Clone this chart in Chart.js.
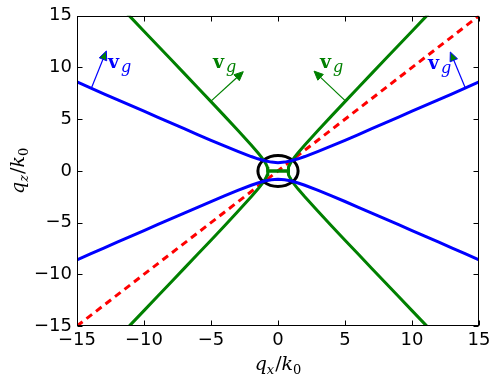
<!DOCTYPE html>
<html><head><meta charset="utf-8">
<script src="https://cdn.jsdelivr.net/npm/chart.js@4/dist/chart.umd.min.js"></script>
<style>html,body{margin:0;padding:0;background:#fff;} #wrap{width:498px;height:381px;position:relative;}</style>
</head><body><div id="wrap"><canvas id="c"></canvas></div>
<script>
// ---- data ----
const qxBlue = [-15,-14,-13,-12,-11,-10,-9,-8,-7,-6,-5,-4,-3,-2,-1.5,-1,-0.5,0,0.5,1,1.5,2,3,4,5,6,7,8,9,10,11,12,13,14,15];
const qzBlueUpper = [8.6,8.03,7.46,6.9,6.33,5.77,5.2,4.64,4.08,3.52,2.96,2.42,1.89,1.39,1.17,0.98,0.85,0.8,0.85,0.98,1.17,1.39,1.89,2.42,2.96,3.52,4.08,4.64,5.2,5.77,6.33,6.9,7.46,8.03,8.6];
const qzBlueLower = [-8.6,-8.03,-7.46,-6.9,-6.33,-5.77,-5.2,-4.64,-4.08,-3.52,-2.96,-2.42,-1.89,-1.39,-1.17,-0.98,-0.85,-0.8,-0.85,-0.98,-1.17,-1.39,-1.89,-2.42,-2.96,-3.52,-4.08,-4.64,-5.2,-5.77,-6.33,-6.9,-7.46,-8.03,-8.6];
const qxGreen = [-12,-11,-10,-9,-8,-7,-6,-5,-4,-3,-2,-1.5,-1.25,-1,-0.9,-0.8,-0.77,-0.75,0,0.75,0.77,0.8,0.9,1,1.25,1.5,2,3,4,5,6,7,8,9,10,11,12];
const qzGreenUpper = [16.22,14.87,13.51,12.15,10.79,9.43,8.06,6.70,5.32,3.93,2.51,1.76,1.35,0.90,0.67,0.38,0.24,0,0,0,0.24,0.38,0.67,0.90,1.35,1.76,2.51,3.93,5.32,6.70,8.06,9.43,10.79,12.15,13.51,14.87,16.22];
const qzGreenLower = [-16.22,-14.87,-13.51,-12.15,-10.79,-9.43,-8.06,-6.70,-5.32,-3.93,-2.51,-1.76,-1.35,-0.90,-0.67,-0.38,-0.24,0,0,0,-0.24,-0.38,-0.67,-0.90,-1.35,-1.76,-2.51,-3.93,-5.32,-6.70,-8.06,-9.43,-10.79,-12.15,-13.51,-14.87,-16.22];
const qxLight = [-15, 15];
const qzLight = [-15, 15];
const tickValues = [-15,-10,-5,0,5,10,15];
const circleCenter = [0, 0];
const circleRadius = 1.5;
// group-velocity arrows: [x0, y0, x1, y1] in data units, and label anchors
const arrowBlueL = [-13.93, 8.0, -12.81, 11.6];
const arrowBlueR = [13.99, 8.0, 12.86, 11.5];
const arrowGreenL = [-5.0, 6.75, -2.59, 9.6];
const arrowGreenR = [5.05, 6.75, 2.69, 9.65];
const labelBlueL = [-12.69, 9.93];
const labelBlueR = [11.19, 9.84];
const labelGreenL = [-4.85, 9.93];
const labelGreenR = [3.13, 9.93];

const BLUE = '#0000ff', GREEN = '#008000', RED = '#ff0000';
const pts = (xs, ys) => xs.map((x, i) => ({x, y: ys[i]}));
const minusFmt = v => (v < 0 ? '\u2212' : '') + Math.abs(v);

const line = (data, color, extra) => Object.assign({
  data, borderColor: color, backgroundColor: color, borderWidth: 3,
  showLine: true, pointRadius: 0, fill: false, tension: 0
}, extra || {});

function drawArrow(ctx, xs, ys, a, lineCol, headFill) {
  const x0 = xs.getPixelForValue(a[0]), y0 = ys.getPixelForValue(a[1]);
  const x1 = xs.getPixelForValue(a[2]), y1 = ys.getPixelForValue(a[3]);
  const ang = Math.atan2(y1 - y0, x1 - x0);
  const hl = 9, hw = 4;
  const bx = x1 - hl * Math.cos(ang), by = y1 - hl * Math.sin(ang);
  ctx.save();
  ctx.strokeStyle = lineCol; ctx.lineWidth = 1.2;
  ctx.beginPath(); ctx.moveTo(x0, y0); ctx.lineTo(bx, by); ctx.stroke();
  ctx.beginPath();
  ctx.moveTo(x1, y1);
  ctx.lineTo(bx + hw * Math.sin(ang), by - hw * Math.cos(ang));
  ctx.lineTo(bx - hw * Math.sin(ang), by + hw * Math.cos(ang));
  ctx.closePath();
  ctx.fillStyle = headFill; ctx.fill();
  ctx.lineWidth = 1; ctx.strokeStyle = lineCol; ctx.stroke();
  ctx.restore();
}
function drawVg(ctx, xs, ys, p, col) {
  const x = xs.getPixelForValue(p[0]), y = ys.getPixelForValue(p[1]);
  ctx.save();
  ctx.fillStyle = col; ctx.textBaseline = 'alphabetic'; ctx.textAlign = 'left';
  ctx.font = 'bold 19px "DejaVu Serif"';
  ctx.fillText('v', x, y);
  const w = ctx.measureText('v').width;
  ctx.font = 'italic 16px "DejaVu Serif"';
  ctx.fillText('g', x + w + 2, y + 4);
  ctx.restore();
}
function drawPieces(ctx, pieces, cx, cy) {
  let total = 0;
  pieces.forEach(p => { ctx.font = p.f; p.w = ctx.measureText(p.t).width; total += p.w + (p.sp || 0); });
  let x = cx - total / 2;
  pieces.forEach(p => { ctx.font = p.f; ctx.fillText(p.t, x, cy + (p.dy || 0)); x += p.w + (p.sp || 0); });
}

const overlay = {
  id: 'overlay',
  afterDatasetDraw(chart, args) {
    if (args.index !== 3) return;
    const ctx = chart.ctx, xs = chart.scales.x, ys = chart.scales.y;
    const cx = xs.getPixelForValue(circleCenter[0]), cy = ys.getPixelForValue(circleCenter[1]);
    const rx = Math.abs(xs.getPixelForValue(circleCenter[0] + circleRadius) - cx);
    const ry = Math.abs(ys.getPixelForValue(circleCenter[1] + circleRadius) - cy);
    ctx.save();
    ctx.strokeStyle = '#000'; ctx.lineWidth = 3;
    ctx.beginPath(); ctx.ellipse(cx, cy, rx, ry, 0, 0, Math.PI * 2); ctx.stroke();
    ctx.restore();
  },
  afterDraw(chart) {
    const ctx = chart.ctx, xs = chart.scales.x, ys = chart.scales.y, a = chart.chartArea;
    // arrows + labels
    drawArrow(ctx, xs, ys, arrowBlueL, BLUE, GREEN);
    drawArrow(ctx, xs, ys, arrowBlueR, BLUE, GREEN);
    drawArrow(ctx, xs, ys, arrowGreenL, GREEN, GREEN);
    drawArrow(ctx, xs, ys, arrowGreenR, GREEN, GREEN);
    drawVg(ctx, xs, ys, labelBlueL, BLUE);
    drawVg(ctx, xs, ys, labelBlueR, BLUE);
    drawVg(ctx, xs, ys, labelGreenL, GREEN);
    drawVg(ctx, xs, ys, labelGreenR, GREEN);
    // frame and inward ticks
    ctx.save();
    ctx.strokeStyle = '#000'; ctx.lineWidth = 1;
    const L = Math.round(a.left) + 0.5, R = Math.round(a.right) - 0.5;
    const T = Math.round(a.top) + 0.5, B = Math.round(a.bottom) - 0.5;
    ctx.strokeRect(L, T, R - L, B - T);
    const tl = 5;
    ctx.beginPath();
    tickValues.forEach(v => {
      const px = Math.round(xs.getPixelForValue(v)) + 0.5;
      ctx.moveTo(px, B); ctx.lineTo(px, B - tl);
      ctx.moveTo(px, T); ctx.lineTo(px, T + tl);
      const py = Math.round(ys.getPixelForValue(v)) + 0.5;
      ctx.moveTo(L, py); ctx.lineTo(L + tl, py);
      ctx.moveTo(R, py); ctx.lineTo(R - tl, py);
    });
    ctx.stroke();
    // axis titles
    ctx.fillStyle = '#000'; ctx.textBaseline = 'alphabetic'; ctx.textAlign = 'left';
    const big = 'italic 19px "DejaVu Serif"', sub = 'italic 13px "DejaVu Serif"', subr = '13px "DejaVu Serif"', sl = '19px "DejaVu Serif"';
    drawPieces(ctx, [
      {t: 'q', f: big}, {t: 'x', f: sub, dy: 4, sp: 1}, {t: '/', f: sl}, {t: 'k', f: big}, {t: '0', f: subr, dy: 4}
    ], (a.left + a.right) / 2, 370);
    ctx.translate(24, (a.top + a.bottom) / 2);
    ctx.rotate(-Math.PI / 2);
    drawPieces(ctx, [
      {t: 'q', f: big}, {t: 'z', f: sub, dy: 4, sp: 1}, {t: '/', f: sl}, {t: 'k', f: big}, {t: '0', f: subr, dy: 4}
    ], 0, 0);
    ctx.restore();
  }
};

const tickFont = {family: 'DejaVu Sans', size: 18};
new Chart(document.getElementById('c'), {
  type: 'scatter',
  data: {
    datasets: [
      line(pts(qxBlue, qzBlueUpper), BLUE),
      line(pts(qxBlue, qzBlueLower), BLUE),
      line(pts(qxGreen, qzGreenUpper), GREEN),
      line(pts(qxGreen, qzGreenLower), GREEN),
      line(pts(qxLight, qzLight), RED, {borderDash: [7, 5]})
    ]
  },
  options: {
    responsive: true, maintainAspectRatio: false, animation: false,
    layout: {padding: {left: 0, top: 15, right: 19, bottom: 0}},
    plugins: {legend: {display: false}, tooltip: {enabled: false}},
    scales: {
      x: {
        type: 'linear', min: -15, max: 15,
        afterBuildTicks: s => { s.ticks = tickValues.map(v => ({value: v})); },
        ticks: {font: tickFont, color: '#000', padding: 4, maxRotation: 0, autoSkip: false, callback: minusFmt},
        grid: {display: true, drawOnChartArea: false, drawTicks: false},
        border: {display: false},
        afterFit: s => { s.height = 55; }
      },
      y: {
        type: 'linear', min: -15, max: 15,
        afterBuildTicks: s => { s.ticks = tickValues.map(v => ({value: v})); },
        ticks: {font: tickFont, color: '#000', padding: 5, autoSkip: false, callback: minusFmt},
        grid: {display: true, drawOnChartArea: false, drawTicks: false},
        border: {display: false},
        afterFit: s => { s.width = 77; }
      }
    }
  },
  plugins: [overlay]
});
</script>
</body></html>
